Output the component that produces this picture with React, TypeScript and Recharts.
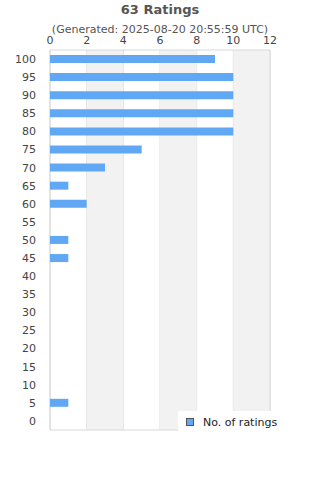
import { BarChart, Bar, XAxis, YAxis, CartesianGrid, ReferenceArea } from 'recharts';

// Rating buckets, top to bottom
const RATING_BUCKETS = ['100', '95', '90', '85', '80', '75', '70', '65', '60', '55', '50', '45', '40', '35', '30', '25', '20', '15', '10', '5', '0'];
const RATING_COUNTS = [9, 10, 10, 10, 10, 5, 3, 1, 2, 0, 1, 1, 0, 0, 0, 0, 0, 0, 0, 1, 0];
const X_TICKS = [0, 2, 4, 6, 8, 10, 12];
const SHADED_BANDS = [[2, 4], [6, 8], [10, 12]];

const BAR_COLOR = '#60a8f4';
const FONT = '"DejaVu Sans", sans-serif';

const data = RATING_BUCKETS.map((bucket, i) => ({ bucket, count: RATING_COUNTS[i] }));

export default function App() {
  return (
    <div style={{ position: 'absolute', left: 0, top: 0, width: 320, height: 480, background: '#fff', fontFamily: FONT }}>
      <div style={{ position: 'absolute', left: 0, top: 2, width: 320, textAlign: 'center', fontSize: 13, fontWeight: 'bold', color: '#555' }}>
        63 Ratings
      </div>
      <div style={{ position: 'absolute', left: 0, top: 23, width: 320, textAlign: 'center', fontSize: 11, color: '#555' }}>
        (Generated: 2025-08-20 20:55:59 UTC)
      </div>
      <BarChart
        width={320}
        height={480}
        data={data}
        layout="vertical"
        margin={{ top: 38, right: 50, left: 0, bottom: 50 }}
        barCategoryGap={5}
      >
        {SHADED_BANDS.map(([a, b]) => (
          <ReferenceArea key={a} x1={a} x2={b} fill="#f2f2f2" fillOpacity={1} stroke="none" ifOverflow="visible" />
        ))}
        <CartesianGrid horizontal={false} stroke="#dddddd" strokeWidth={1} />
        <ReferenceArea x1={0} x2={12} fill="none" stroke="#d8d8d8" strokeWidth={1} ifOverflow="visible" />
        <XAxis
          type="number"
          orientation="top"
          domain={[0, 12]}
          ticks={X_TICKS}
          height={12}
          axisLine={false}
          tickLine={false}
          tickMargin={0}
          tick={{ fontSize: 11, fill: '#444', fontFamily: FONT }}
        />
        <YAxis
          type="category"
          dataKey="bucket"
          width={50}
          interval={0}
          axisLine={false}
          tickLine={false}
          tickMargin={8}
          tick={{ fontSize: 11, fill: '#444', fontFamily: FONT }}
        />
        <Bar dataKey="count" fill={BAR_COLOR} barSize={8} isAnimationActive={false} />
      </BarChart>
      <div
        style={{
          position: 'absolute',
          left: 178,
          top: 411,
          width: 142,
          height: 22,
          background: '#fff',
          display: 'flex',
          alignItems: 'center',
          fontSize: 11,
          color: '#222',
        }}
      >
        <span style={{ display: 'inline-block', width: 6, height: 6, background: BAR_COLOR, border: '1px solid #555', marginLeft: 8, marginRight: 9 }} />
        No. of ratings
      </div>
    </div>
  );
}
